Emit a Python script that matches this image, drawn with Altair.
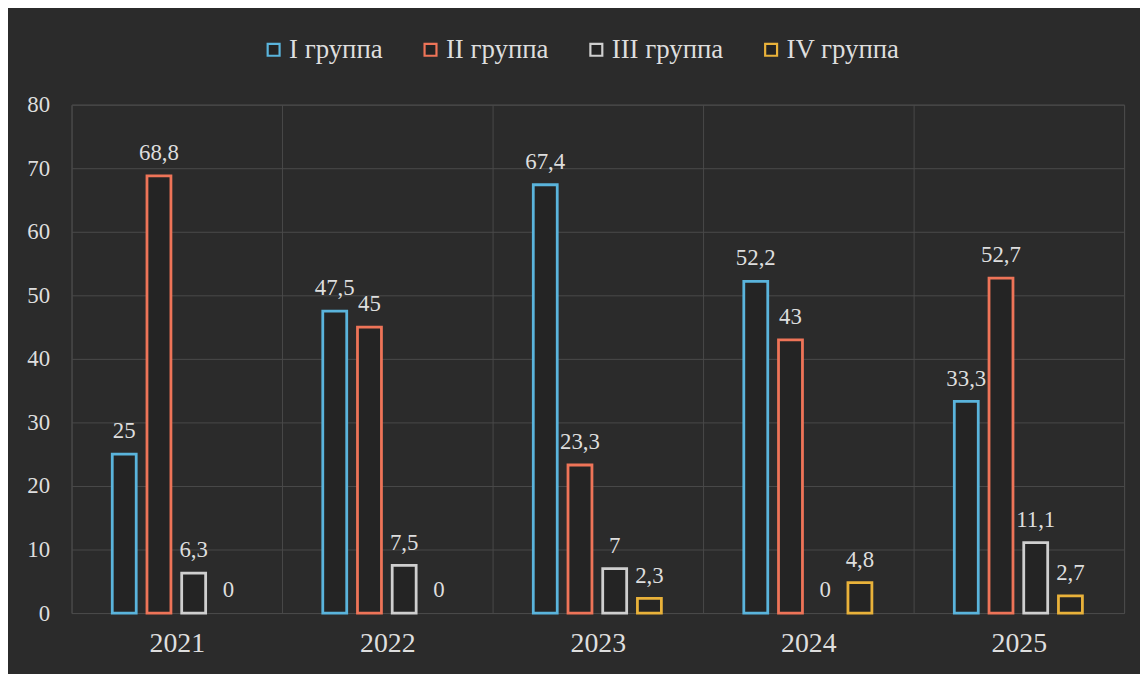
import altair as alt
import pandas as pd

years = ["2021", "2022", "2023", "2024", "2025"]
groups = ["I группа", "II группа", "III группа", "IV группа"]
g1 = [25, 47.5, 67.4, 52.2, 33.3]
g2 = [68.8, 45, 23.3, 43, 52.7]
g3 = [6.3, 7.5, 7, 0, 11.1]
g4 = [0, 0, 2.3, 4.8, 2.7]
colors = ["#5ab4dc", "#ee7458", "#cfcfcf", "#e9b23a"]

rows = []
for gname, vals in zip(groups, [g1, g2, g3, g4]):
    for y, v in zip(years, vals):
        rows.append({"year": y, "group": gname, "value": v,
                     "label": (f"{v:g}").replace(".", ",")})
df = pd.DataFrame(rows)

BG = "#2b2b2b"
TXT = "#dedede"
GRID = "#4a4a4a"
FONT = "Liberation Serif"

base = alt.Chart(df).encode(
    x=alt.X("year:N", sort=years, title=None,
            scale=alt.Scale(paddingInner=0, paddingOuter=0),
            axis=alt.Axis(labelAngle=0, labelFontSize=28, labelFont=FONT, labelColor=TXT,
                          grid=True, gridColor=GRID, tickBand="extent", ticks=False,
                          domain=False, labelPadding=17)),
    xOffset=alt.XOffset("group:N", sort=groups,
                        scale=alt.Scale(paddingInner=0.31, paddingOuter=0, range=[41, 170])),
    y=alt.Y("value:Q", title=None,
            scale=alt.Scale(domain=[0, 80]),
            axis=alt.Axis(values=list(range(0, 81, 10)), labelFontSize=23, labelFont=FONT,
                          labelColor=TXT, grid=True, gridColor=GRID, ticks=False,
                          domain=False, labelPadding=22)),
)

bars = base.mark_bar(strokeWidth=2.8, fill="#242424").encode(
    stroke=alt.Stroke("group:N", sort=groups, scale=alt.Scale(domain=groups, range=colors),
                      legend=alt.Legend(title=None, orient="none", direction="horizontal",
                                        legendX=190, legendY=-69,
                                        labelFontSize=27, labelFont=FONT, labelColor=TXT,
                                        symbolType="square", symbolSize=144,
                                        symbolStrokeWidth=2.2, symbolFillColor=BG,
                                        columnPadding=34, labelOffset=2)),
).transform_filter("datum.value > 0")

labels = base.mark_text(baseline="alphabetic", dy=-16, fontSize=23, font=FONT, color=TXT).encode(
    text="label:N"
)

chart = alt.layer(bars, labels).properties(
    width=1060, height=512,
    autosize=alt.AutoSizeParams(type="none"),
    padding={"left": 64, "top": 95, "right": 16, "bottom": 59},
    background=BG,
).configure_view(stroke=GRID)

chart.save("out.html", embed_options={"renderer": "svg", "actions": False})
